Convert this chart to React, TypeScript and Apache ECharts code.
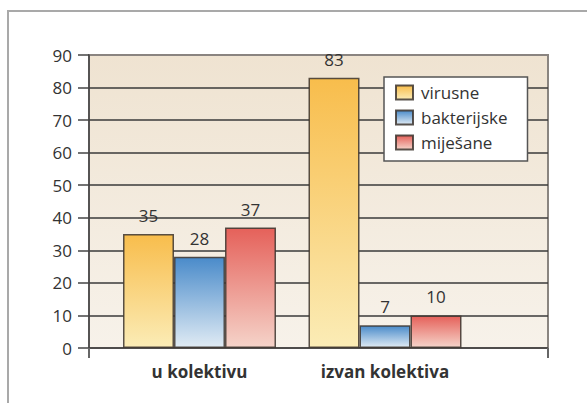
import React, { useEffect, useRef } from "react";
import * as echarts from "echarts";

const categories = ["u kolektivu", "izvan kolektiva"];
const seriesNames = ["virusne", "bakterijske", "miješane"];
const virusne = [35, 83];
const bakterijske = [28, 7];
const mijesane = [37, 10];
const yTicks = { min: 0, max: 90, interval: 10 };

const FONT = "'Open Sans', 'Noto Sans', sans-serif";
const TEXT = "#333333";
const FS = 17;

const grad = (top: string, bottom: string) => ({
  type: "linear",
  x: 0,
  y: 0,
  x2: 0,
  y2: 1,
  colorStops: [
    { offset: 0, color: top },
    { offset: 1, color: bottom },
  ],
});

export default function App() {
  const ref = useRef<HTMLDivElement>(null);
  useEffect(() => {
    document.body.style.margin = "0";
    const chart = echarts.init(ref.current!, undefined, { renderer: "svg" });
    const colors = [
      grad("#f8bd4c", "#fbecb6"),
      grad("#4a8bca", "#e0ebf4"),
      grad("#e5615a", "#f5d3c9"),
    ];
    const values = [virusne, bakterijske, mijesane];
    const splitColors = [
      "#3a3a3a", "#3a3a3a", "#3a3a3a", "#3a3a3a", "#3a3a3a",
      "#3a3a3a", "#3a3a3a", "#3a3a3a", "#3a3a3a", "#8a8580",
    ];
    const option: any = {
      animation: false,
      textStyle: { fontFamily: FONT },
      graphic: [
        {
          type: "rect",
          shape: { x: 8, y: 11, width: 640, height: 440 },
          style: { fill: "none", stroke: "#a9a9a9", lineWidth: 2 },
          silent: true,
        },
      ],
      grid: [
        {
          left: 89,
          right: 39,
          top: 55,
          bottom: 55,
          show: true,
          borderColor: "#8a8580",
          borderWidth: 2,
          backgroundColor: grad("#efe3d1", "#f7f2ea"),
        },
        {
          left: 106.75,
          right: 109.25,
          top: 55,
          bottom: 55,
        },
      ],
      xAxis: [
        {
          gridIndex: 0,
          type: "value",
          min: 0,
          max: 1,
          interval: 1,
          axisLine: { show: false },
          axisTick: { show: true, length: 10, lineStyle: { color: "#666", width: 2 } },
          axisLabel: { show: false },
          splitLine: { show: false },
        },
        {
          gridIndex: 1,
          type: "category",
          data: categories,
          axisLine: { show: false },
          axisTick: { show: false },
          axisLabel: {
            fontSize: FS,
            fontWeight: "bold",
            color: TEXT,
            margin: 15,
            fontFamily: FONT,
          },
        },
      ],
      yAxis: [
        {
          gridIndex: 0,
          type: "value",
          min: yTicks.min,
          max: yTicks.max,
          interval: yTicks.interval,
          axisLine: { show: true, lineStyle: { color: "#444", width: 1.5 } },
          axisTick: { show: true, length: 11, lineStyle: { color: "#444", width: 1.5 } },
          axisLabel: { fontSize: FS, color: TEXT, margin: 17, fontFamily: FONT },
          splitLine: { show: true, lineStyle: { color: splitColors, width: 1.5 } },
        },
        {
          gridIndex: 1,
          type: "value",
          min: yTicks.min,
          max: yTicks.max,
          interval: yTicks.interval,
          show: false,
        },
      ],
      legend: {
        left: 384,
        top: 77,
        orient: "vertical",
        backgroundColor: "#ffffff",
        borderColor: "#555",
        borderWidth: 1.5,
        padding: [7, 20, 10, 11],
        itemGap: 8,
        itemWidth: 17,
        itemHeight: 14,
        icon: "rect",
        textStyle: { fontSize: FS, color: TEXT, fontFamily: FONT, padding: [0, 0, 0, 3] },
        data: seriesNames,
      },
      series: seriesNames.map((name, i) => ({
        name,
        type: "bar",
        xAxisIndex: 1,
        yAxisIndex: 1,
        barWidth: 51,
        barGap: "0%",
        data: values[i],
        itemStyle: {
          color: colors[i],
          borderColor: "rgba(60,52,46,0.85)",
          borderWidth: 1.5,
        },
        label: {
          show: true,
          position: "top",
          distance: 10,
          fontSize: FS,
          color: TEXT,
          fontFamily: FONT,
        },
      })),
    };
    chart.setOption(option);
    return () => chart.dispose();
  }, []);
  return <div ref={ref} style={{ width: 587, height: 403 }} />;
}
